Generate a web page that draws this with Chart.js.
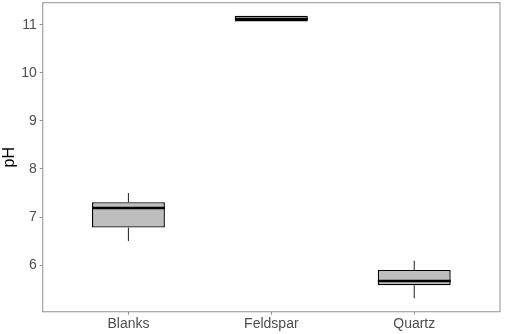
<!DOCTYPE html>
<html>
<head>
<meta charset="utf-8">
<script src="https://cdn.jsdelivr.net/npm/chart.js@4"></script>
<style>
  html, body { margin: 0; padding: 0; background: #fff; }
  #wrap { width: 505px; height: 334px; }
</style>
</head>
<body>
<div id="wrap"><canvas id="phChart" width="505" height="334"></canvas></div>
<script>
// 박스플롯 데이터
const categories = ['Blanks', 'Feldspar', 'Quartz'];
const lowerWhisker = [6.5, 11.07, 5.31];
const q1 = [6.78, 11.07, 5.58];
const median = [7.19, 11.12, 5.67];
const q3 = [7.31, 11.19, 5.9];
const upperWhisker = [7.5, 11.19, 6.09];
const yTicks = [6, 7, 8, 9, 10, 11];

const FONT = "'Liberation Sans', Arial, sans-serif";
const PANEL_GRAY = '#a3a3a3';

// 패널 테두리 + 수염 + 중앙값
const boxPlugin = {
  id: 'boxExtras',
  afterDatasetsDraw(chart) {
    const ctx = chart.ctx;
    const y = chart.scales.y;
    const meta = chart.getDatasetMeta(0);
    ctx.save();
    meta.data.forEach((bar, i) => {
      const half = bar.width / 2;
      // 수염
      ctx.strokeStyle = '#333';
      ctx.lineWidth = 1.1;
      ctx.beginPath();
      ctx.moveTo(bar.x, y.getPixelForValue(q3[i]));
      ctx.lineTo(bar.x, y.getPixelForValue(upperWhisker[i]));
      ctx.moveTo(bar.x, y.getPixelForValue(q1[i]));
      ctx.lineTo(bar.x, y.getPixelForValue(lowerWhisker[i]));
      ctx.stroke();
      // 중앙값
      ctx.strokeStyle = '#000';
      ctx.lineWidth = 2.5;
      ctx.beginPath();
      const my = y.getPixelForValue(median[i]);
      ctx.moveTo(bar.x - half, my);
      ctx.lineTo(bar.x + half, my);
      ctx.stroke();
    });
    const a = chart.chartArea;
    ctx.strokeStyle = PANEL_GRAY;
    ctx.lineWidth = 1.2;
    ctx.strokeRect(a.left, a.top, a.right - a.left, a.bottom - a.top);
    ctx.restore();
  }
};

const ctx = document.getElementById('phChart');
new Chart(ctx, {
  type: 'bar',
  data: {
    datasets: [{
      data: categories.map((c, i) => ({ x: i + 1, y: [q1[i], q3[i]] })),
      backgroundColor: '#bebebe',
      borderColor: '#000',
      borderWidth: 1.4,
      borderSkipped: false,
      categoryPercentage: 1,
      barPercentage: 0.51
    }]
  },
  options: {
    responsive: false,
    animation: false,
    layout: { padding: { top: 2.7, right: 5, left: 0, bottom: 0 } },
    plugins: {
      legend: { display: false },
      tooltip: { enabled: false }
    },
    scales: {
      x: {
        type: 'linear',
        min: 0.4,
        max: 3.6,
        offset: false,
        afterBuildTicks(axis) {
          axis.ticks = categories.map((c, i) => ({ value: i + 1 }));
        },
        afterFit(axis) {
          axis.height = 334 - 2.7 - 309;
          axis.paddingLeft = 0;
          axis.paddingRight = 0;
        },
        border: { display: false },
        grid: { offset: false, drawOnChartArea: false, drawTicks: true, tickLength: 3, color: '#8c8c8c' },
        ticks: {
          padding: 1,
          color: '#4d4d4d',
          font: { size: 14, family: FONT },
          maxRotation: 0,
          callback: (v) => categories[v - 1]
        }
      },
      y: {
        min: 5.03,
        max: 11.46,
        afterBuildTicks(axis) {
          axis.ticks = yTicks.map(v => ({ value: v }));
        },
        afterFit(axis) {
          axis.width = 42.7;
          axis.paddingTop = 0;
          axis.paddingBottom = 0;
        },
        border: { display: false },
        grid: { drawOnChartArea: false, drawTicks: true, tickLength: 3, color: '#8c8c8c' },
        ticks: {
          padding: 3,
          color: '#4d4d4d',
          font: { size: 14, family: FONT }
        },
        title: {
          display: true,
          text: 'pH',
          color: '#000',
          padding: { top: 0, bottom: 0 },
          font: { size: 16, family: FONT }
        }
      }
    }
  },
  plugins: [boxPlugin]
});
</script>
</body>
</html>
